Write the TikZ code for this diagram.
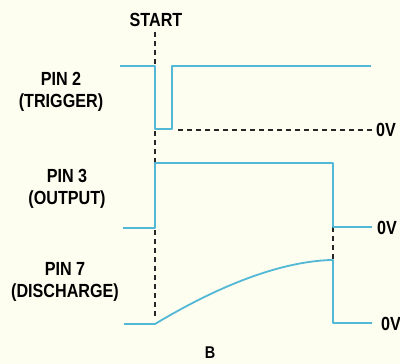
\documentclass[tikz,border=0pt]{standalone}
\usepackage{fontspec}
\setmainfont[FakeStretch=0.85]{Liberation Sans}
\usetikzlibrary{positioning}
\definecolor{paper}{RGB}{253,253,240}
\definecolor{trace}{RGB}{82,184,214}

\begin{document}
\begin{tikzpicture}[x=1pt, y=-1pt,
  font=\fontsize{19}{22}\selectfont\bfseries,
  lbl/.style={align=center, inner sep=0pt},
  volt/.style={anchor=west, inner sep=0pt},
  wave/.style={trace, line width=1.8pt, line join=round},
  marker/.style={black!85, line width=1.2pt, dash pattern=on 5pt off 4pt}]

\fill[paper] (0,0) rectangle (400,364);
\useasboundingbox (0,0) rectangle (400,364);

% pin labels
\node[lbl] (start) at (156,20) {START};
\node[lbl] (pin2) at (61,92) {PIN 2\\(TRIGGER)};
\node[lbl] (pin3) at (67,189) {PIN 3\\(OUTPUT)};
\node[lbl] (pin7) at (65,282) {PIN 7\\(DISCHARGE)};
\node[lbl, font=\fontsize{17}{20}\selectfont\bfseries] (fig) at (210,353) {B};

% zero volt labels
\node[volt] (zero2) at (376,130) {0V};
\node[volt] (zero3) at (377,228) {0V};
\node[volt] (zero7) at (381,324) {0V};

% time markers
\coordinate (t0) at (155,32);
\coordinate (t0end) at (155,318);
\coordinate (t1) at (333,227);
\coordinate (t1end) at (333,260);
\draw[marker] (t0) -- (t0end);
\draw[marker] (t1) -- (t1end);
\draw[marker] (178,130) -- (372,130);

% pin 2 trace
\draw[wave] (120,66) -- (155,66) -- (155,129) -- (172,129) -- (172,66) -- (371,66);

% pin 3 trace
\draw[wave] (123,228) -- (155,228) -- (155,163) -- (333,163) -- (333,227) -- (372,227);

% pin 7 trace
\draw[wave] (124,324) -- (155,324) .. controls (220,285) and (280,262) .. (330,260)
  -- (333,260) -- (333,323) -- (372,323);
\end{tikzpicture}
\end{document}
